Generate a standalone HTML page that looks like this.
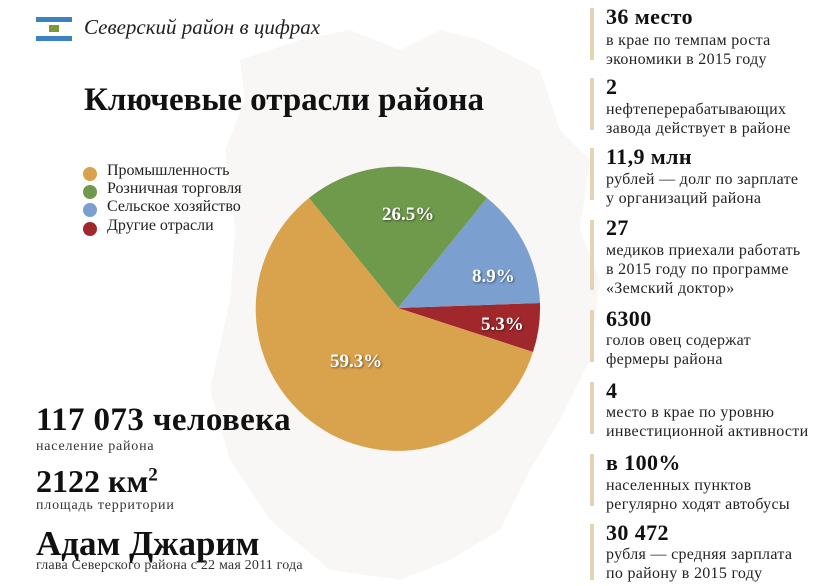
<!DOCTYPE html>
<html><head><meta charset="utf-8"><style>
body{margin:0;width:830px;height:586px;background:#fff;position:relative;overflow:hidden;font-family:"Liberation Serif","DejaVu Serif",serif;color:#111}
.a{position:absolute;white-space:nowrap}
.bar{position:absolute;left:590px;width:4px;background:#e6d3b3}
.h{font-weight:bold;font-size:22px;letter-spacing:0.4px}
.s{font-size:16px;line-height:19px;color:#222;letter-spacing:0.3px}
.b{font-size:14px;color:#333;letter-spacing:0.2px}
.lg{font-size:16px;color:#222}
.dot{position:absolute;width:14px;height:14px;border-radius:50%}
</style></head><body>
<svg class="a" style="left:0;top:0" width="830" height="586">
<polygon points="240,60 300,40 350,30 400,50 440,30 480,40 520,60 540,70 560,130 590,160 580,230 600,280 590,360 560,420 530,470 500,530 450,560 400,580 330,570 270,520 230,460 210,390 230,300 235,230 225,150 245,100" fill="#f8f7f6"/>
<path d="M398,308 L540,303 A142,142 0 0 1 533,352 Z" fill="#a0282c"/>
<path d="M398,308 L487,198 A142,142 0 0 1 540,303 Z" fill="#7b9fcf"/>
<path d="M398,308 L309,198 A142,142 0 0 1 487,198 Z" fill="#6f9a4c"/>
<path d="M398,308 L533,352 A142,142 0 1 1 309,198 Z" fill="#d9a24c"/>
<g font-family="Liberation Serif,serif" font-weight="bold" font-size="19" fill="#fff" style="text-shadow:1px 1px 2px rgba(0,0,0,.5)">
<text x="382" y="220">26.5%</text><text x="472" y="282">8.9%</text><text x="481" y="330">5.3%</text><text x="330" y="367">59.3%</text></g>
<rect x="36" y="17" width="36" height="24" fill="#fff"/><rect x="36" y="17" width="36" height="5" fill="#3b82c4"/><rect x="36" y="36" width="36" height="5" fill="#3b82c4"/><rect x="49" y="25" width="10" height="7" fill="#7a9a3a"/>
</svg>
<div class="a" style="left:84px;top:15px;font-size:21px;font-style:italic;color:#222">Северский район в цифрах</div>
<div class="a" style="left:84px;top:82px;font-size:33px;font-weight:bold">Ключевые отрасли района</div>
<div class="dot" style="left:83px;top:167px;background:#d9a24c"></div><div class="a lg" style="left:107px;top:162px">Промышленность</div>
<div class="dot" style="left:83px;top:185px;background:#6f9a4c"></div><div class="a lg" style="left:107px;top:180px">Розничная торговля</div>
<div class="dot" style="left:83px;top:203px;background:#7b9fcf"></div><div class="a lg" style="left:107px;top:198px">Сельское хозяйство</div>
<div class="dot" style="left:83px;top:222px;background:#a0282c"></div><div class="a lg" style="left:107px;top:217px">Другие отрасли</div>
<div class="a" style="left:36px;top:402px;font-size:33px;font-weight:bold;letter-spacing:0.4px">117 073 человека</div>
<div class="a b" style="left:36px;top:439px;letter-spacing:0.8px">население района</div>
<div class="a" style="left:36px;top:463px;font-size:32px;font-weight:bold">2122 км<sup style="font-size:19px">2</sup></div>
<div class="a b" style="left:36px;top:498px;letter-spacing:0.8px">площадь территории</div>
<div class="a" style="left:36px;top:524px;font-size:35px;font-weight:bold">Адам Джарим</div>
<div class="a b" style="left:36px;top:558px;font-size:14px">глава Северского района с 22 мая 2011 года</div>

<div class="bar" style="top:8px;height:52px"></div>
<div class="a h" style="left:606px;top:4px">36 место</div><div class="a s" style="left:606px;top:31px">в крае по темпам роста<br>экономики в 2015 году</div>
<div class="bar" style="top:78px;height:52px"></div>
<div class="a h" style="left:606px;top:74px">2</div><div class="a s" style="left:606px;top:100px">нефтеперерабатывающих<br>завода действует в районе</div>
<div class="bar" style="top:148px;height:52px"></div>
<div class="a h" style="left:606px;top:144px">11,9 млн</div><div class="a s" style="left:606px;top:170px">рублей — долг по зарплате<br>у организаций района</div>
<div class="bar" style="top:220px;height:70px"></div>
<div class="a h" style="left:606px;top:215px">27</div><div class="a s" style="left:606px;top:241px">медиков приехали работать<br>в 2015 году по программе<br>«Земский доктор»</div>
<div class="bar" style="top:310px;height:52px"></div>
<div class="a h" style="left:606px;top:306px">6300</div><div class="a s" style="left:606px;top:331px">голов овец содержат<br>фермеры района</div>
<div class="bar" style="top:382px;height:52px"></div>
<div class="a h" style="left:606px;top:378px">4</div><div class="a s" style="left:606px;top:403px">место в крае по уровню<br>инвестиционной активности</div>
<div class="bar" style="top:454px;height:52px"></div>
<div class="a h" style="left:606px;top:450px">в 100%</div><div class="a s" style="left:606px;top:476px">населенных пунктов<br>регулярно ходят автобусы</div>
<div class="bar" style="top:524px;height:56px"></div>
<div class="a h" style="left:606px;top:520px">30 472</div><div class="a s" style="left:606px;top:545px">рубля — средняя зарплата<br>по району в 2015 году</div>
</body></html>
